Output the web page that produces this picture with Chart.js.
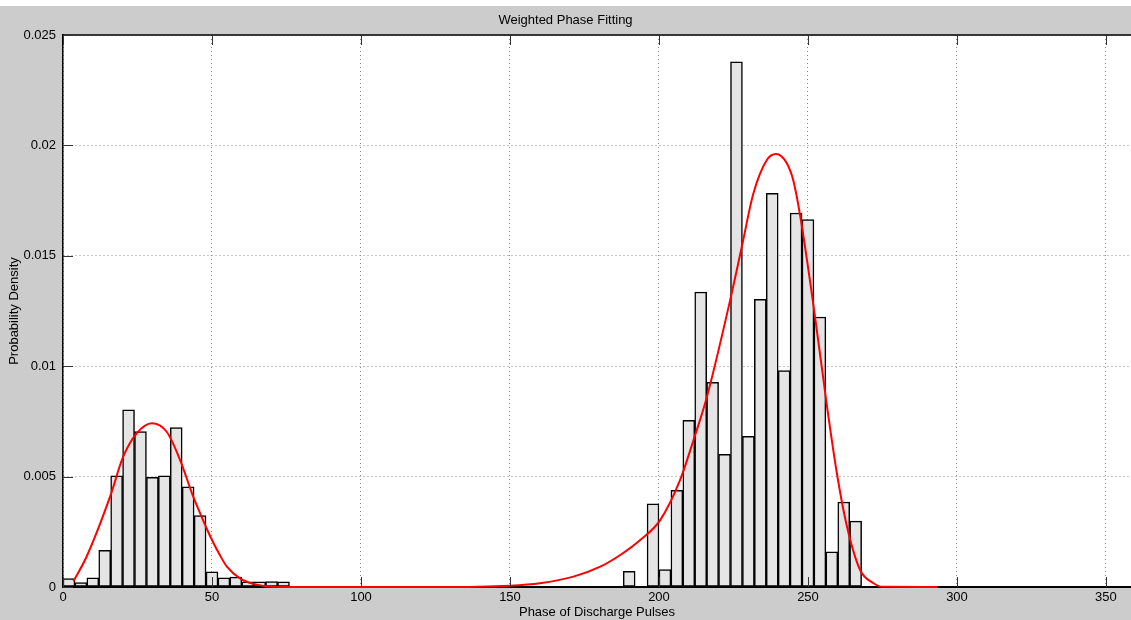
<!DOCTYPE html>
<html>
<head>
<meta charset="utf-8">
<script src="https://cdn.jsdelivr.net/npm/chart.js@4"></script>
<style>
  html, body { margin: 0; padding: 0; background: #ffffff; }
  #wrap { width: 1131px; height: 620px; }
</style>
</head>
<body>
<div id="wrap"><canvas id="myChart" width="1131" height="620"></canvas></div>
<script>
// histogram bins (centre of each 4 degree bin) and their probability density
const binCentres = [2, 6, 10, 14, 18, 22, 26, 30, 34, 38, 42, 46, 50, 54, 58, 62, 66, 70, 74,
    190, 194, 198, 202, 206, 210, 214, 218, 222, 226, 230, 234, 238, 242, 246, 250, 254, 258, 262, 266];
const binDensity = [0.00038, 0.0002, 0.00042, 0.00166, 0.00503, 0.00802, 0.00704, 0.00497, 0.00503, 0.00722,
    0.00454, 0.00323, 0.00069, 0.00042, 0.00045, 0.00023, 0.00023, 0.00024, 0.00023,
    0.00071, 0, 0.00377, 0.00079, 0.00438, 0.00755, 0.01336, 0.00927, 0.00601, 0.02379, 0.00682,
    0.01303, 0.01783, 0.0098, 0.01694, 0.01664, 0.01223, 0.00159, 0.00385, 0.00298];

// fitted curve
const fitPhase = [3.5, 7.9, 15.8, 20.2, 24.7, 29.8, 34.8, 39.3, 43.7, 46, 48.2, 50.5, 52.5, 55, 59.4, 63.9, 70.5, 80, 100, 126,
    150, 160, 171.3, 180.3, 187, 193.7, 200.4, 207.1, 211.6, 216.1, 223.9, 227.8, 231.7, 236.2, 239.3, 242.9, 245.1,
    247.4, 251.9, 256.4, 259.7, 263.1, 267.5, 272, 275, 293.4];
const fitDensity = [0.00026, 0.00137, 0.00409, 0.0059, 0.00696, 0.00742, 0.00703, 0.00575, 0.00409, 0.00335, 0.00265, 0.00199, 0.00148, 0.00092, 0.00039, 0.00014, 0.00001, 0, 0, 0,
    0.00006, 0.00017, 0.00047, 0.00092, 0.00145, 0.00213, 0.00303, 0.00485, 0.00666, 0.00862, 0.013, 0.01541, 0.01783, 0.01934, 0.01961, 0.01919, 0.0184,
    0.0168, 0.0127, 0.00817, 0.00515, 0.00273, 0.00077, 0.00017, 0.00001, 0];

const xTicks = [0, 50, 100, 150, 200, 250, 300, 350];
const yTicks = [0, 0.005, 0.01, 0.015, 0.02, 0.025];

const fontName = "'Liberation Sans', Arial, sans-serif";

const framePlugin = {
    id: 'frame',
    beforeDraw(chart) {
        const c = chart.ctx;
        const a = chart.chartArea;
        c.save();
        c.fillStyle = '#ffffff';
        c.fillRect(0, 0, chart.width, chart.height);
        c.fillStyle = '#cccccc';
        c.fillRect(0, 6, chart.width, chart.height - 6);
        c.fillStyle = '#ffffff';
        c.fillRect(a.left, a.top, a.right - a.left, a.bottom - a.top);
        c.restore();
    },
    afterDraw(chart) {
        const c = chart.ctx;
        const a = chart.chartArea;
        const xs = chart.scales.x;
        const ys = chart.scales.y;
        c.save();
        c.strokeStyle = '#000';
        c.lineWidth = 1.5;
        c.beginPath();
        c.moveTo(a.left, a.top);
        c.lineTo(a.right, a.top);
        c.stroke();
        c.strokeStyle = '#333';
        c.lineWidth = 1;
        c.beginPath();
        xTicks.forEach(v => {
            const px = Math.round(xs.getPixelForValue(v)) + 0.5;
            c.moveTo(px, a.bottom);
            c.lineTo(px, a.bottom - 10);
            c.moveTo(px, a.top);
            c.lineTo(px, a.top + 10);
        });
        yTicks.forEach(v => {
            const py = Math.round(ys.getPixelForValue(v)) + 0.5;
            c.moveTo(a.left, py);
            c.lineTo(a.left + 10, py);
        });
        c.stroke();
        c.restore();
    }
};

const ctx = document.querySelector('#myChart').getContext('2d');

const data = {
    datasets: [{
        type: 'line',
        data: fitPhase.map((x, i) => ({x: x, y: fitDensity[i]})),
        borderColor: '#ff0000',
        borderWidth: 2,
        pointRadius: 0,
        cubicInterpolationMode: 'monotone',
        clip: false
    }, {
        type: 'bar',
        data: binCentres.map((x, i) => ({x: x, y: binDensity[i]})),
        backgroundColor: '#e5e5e5',
        borderColor: '#000000',
        borderWidth: 1.5,
        borderSkipped: false,
        barPercentage: 1,
        categoryPercentage: 1
    }]
};

const config = {
    type: 'bar',
    data: data,
    options: {
        responsive: false,
        animation: false,
        layout: { padding: 0 },
        plugins: {
            legend: { display: false },
            tooltip: { enabled: false },
            title: {
                display: true,
                text: 'Weighted Phase Fitting',
                color: '#000',
                font: { family: fontName, size: 13, weight: 'normal', lineHeight: 1.2 },
                padding: { top: 13, bottom: 6.4 }
            }
        },
        scales: {
            x: {
                type: 'linear',
                min: 0,
                max: 358.4,
                offset: false,
                afterBuildTicks: s => { s.ticks = xTicks.map(v => ({value: v})); },
                afterFit: s => { s.height = 33; },
                ticks: {
                    color: '#000',
                    padding: 3,
                    maxRotation: 0,
                    font: { family: fontName, size: 13 },
                    callback: v => String(v)
                },
                grid: { offset: false, drawTicks: false, color: '#8a8a8a', lineWidth: 1 },
                border: { display: true, color: '#000', width: 2, dash: [1, 3] },
                title: {
                    display: true,
                    text: 'Phase of Discharge Pulses',
                    color: '#000',
                    font: { family: fontName, size: 13, lineHeight: 1.2 },
                    padding: { top: 0, bottom: 0 }
                }
            },
            y: {
                min: 0,
                max: 0.025,
                afterBuildTicks: s => { s.ticks = yTicks.map(v => ({value: v})); },
                afterFit: s => { s.width = 63; },
                ticks: {
                    color: '#000',
                    padding: 7,
                    font: { family: fontName, size: 13 },
                    callback: v => String(+v.toFixed(3))
                },
                grid: { drawTicks: false, color: '#8a8a8a', lineWidth: 1 },
                border: { display: true, color: '#000', width: 1.5, dash: [1, 3] },
                title: {
                    display: true,
                    text: 'Probability Density',
                    color: '#000',
                    font: { family: fontName, size: 13, lineHeight: 1.2 },
                    padding: { top: 7, bottom: 0 }
                }
            }
        }
    },
    plugins: [framePlugin]
};

const myChart = new Chart(ctx, config);
</script>
</body>
</html>
